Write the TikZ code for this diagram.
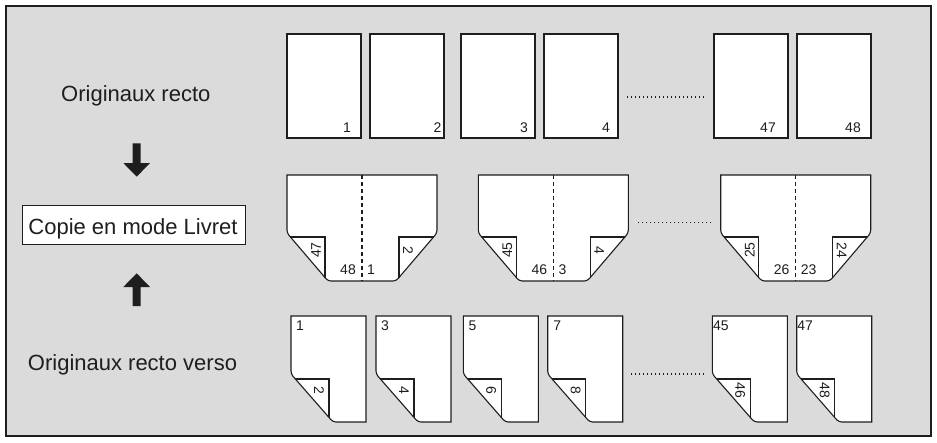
\documentclass[tikz,border=0pt]{standalone}
\usepackage{fontspec}
\setmainfont{Liberation Sans}
\definecolor{bg}{HTML}{DBDBDB}
\definecolor{ink}{HTML}{1E1E1E}
\begin{document}
\begin{tikzpicture}[x=1pt,y=-1pt,
  paper/.style={draw=ink,fill=white,line width=1.1pt},
  edge/.style={draw=ink,line width=1.1pt},
  num/.style={inner sep=0pt,font=\fontsize{14}{16}\selectfont,text=ink},
  lbl/.style={inner sep=0pt,font=\fontsize{22}{26}\selectfont,text=ink},
  dots/.style={draw=ink,line width=1.2pt,dash pattern=on 1.2pt off 2.8pt},
  bigarrow/.style={fill=ink,draw=none}]
\useasboundingbox (0,0) rectangle (937,442);
% frame
\draw[fill=bg,draw=ink,line width=1.2pt] (6,6) rectangle (931,436);
% left labels
\node[lbl,anchor=base] (lrecto) at (135.8,101.7) {Originaux recto};
\node[draw=ink,fill=white,line width=1pt,minimum width=223.4pt,minimum height=38.3pt,inner sep=0pt] (mode) at (134,224.85) {};
\node[lbl,anchor=base] (lmode) at (133,234.3) {Copie en mode Livret};
\node[lbl,anchor=base] (lverso) at (132.5,370) {Originaux recto verso};
% arrows
\fill[bigarrow] (132.7,143.3) -- (140.7,143.3) -- (140.7,163) -- (150,163) -- (136.7,176.7) -- (123.3,163) -- (132.7,163) -- cycle;
\fill[bigarrow] (132.7,306) -- (140.7,306) -- (140.7,287) -- (150,287) -- (136.7,273.3) -- (123.3,287) -- (132.7,287) -- cycle;
% top row
\foreach \n/\x/\lab/\lx in {t1/287/1/347, t2/370/2/437.5, t3/461/3/524, t4/544/4/606, t47/714/47/768, t48/797/48/853}{
  \draw[paper] (\x,34) rectangle (\x+74,138);
  \node[num,anchor=base] (\n) at (\lx,132.5) {\lab};
}
\coordinate (d1a) at (627,97); \coordinate (d1b) at (705,97);
\draw[dots] (d1a) -- (d1b);
% middle row (booklets)
\foreach \n/\x/\a/\b/\c/\d in {b1/287/47/48/1/2, b2/478.3/45/46/3/4, b3/720.7/25/26/23/24}{
  \draw[paper] (\x,200) [rounded corners=3pt] -- (\x,233) -- (\x+41,281) -- (\x+109,281) -- (\x+150,233) -- (\x+150,200) [sharp corners] -- (\x+150,175) -- (\x,175) -- cycle;
  \draw[edge] (\x+3.4,237) -- (\x+38,237) -- (\x+38,277.5);
  \draw[edge] (\x+146.6,237) -- (\x+112,237) -- (\x+112,277.5);
  \draw[edge,dash pattern=on 4pt off 3pt] (\x+75,175) -- (\x+75,281);
  \node[num,rotate=90] (\n a) at (\x+29,250) {\a};
  \node[num,anchor=base east] (\n b) at (\x+69,274) {\b};
  \node[num,anchor=base west] (\n c) at (\x+80,274) {\c};
  \node[num,rotate=-90] (\n d) at (\x+121,250) {\d};
}
\coordinate (d2a) at (638,222.3); \coordinate (d2b) at (711,222.3);
\draw[dots] (d2a) -- (d2b);
% bottom row (recto verso)
\foreach \n/\x/\a/\b/\dx in {v1/291/1/2/5, v2/376/3/4/5, v3/463.3/5/6/5, v4/547.7/7/8/5.5, v45/712.3/45/46/0.5, v47/796.7/47/48/0.5}{
  \draw[paper] (\x+75,316) -- (\x+75,422) -- (\x+60,422) [rounded corners=3pt] -- (\x+42,422) -- (\x,374) -- (\x,340) [sharp corners] -- (\x,316) -- cycle;
  \draw[edge] (\x+4.4,379) -- (\x+38,379) -- (\x+38,417.4);
  \node[num,anchor=north west] (\n a) at (\x+\dx,321) {\a};
  \node[num,rotate=-90] (\n b) at (\x+28,390) {\b};
}
\coordinate (d3a) at (631,374); \coordinate (d3b) at (706,374);
\draw[dots] (d3a) -- (d3b);
\end{tikzpicture}
\end{document}
